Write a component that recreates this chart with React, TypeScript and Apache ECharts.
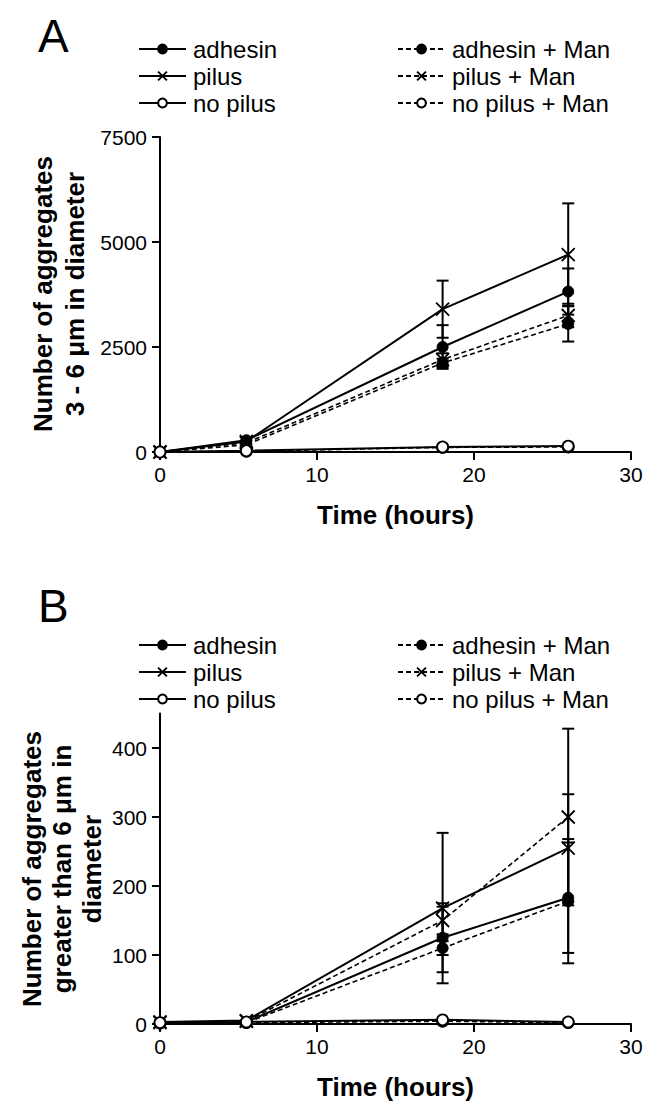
import React, { useEffect, useRef } from "react";
import * as echarts from "echarts";

// ---- data ----
const hours = [0, 5.5, 18, 26];
const xTicks = [0, 10, 20, 30];
const yTicksA = [0, 2500, 5000, 7500];
const yTicksB = [0, 100, 200, 300, 400];
const legendSolid = ["adhesin", "pilus", "no pilus"];
const legendDashed = ["adhesin + Man", "pilus + Man", "no pilus + Man"];

// Panel A: aggregates 3 - 6 µm
const adhesinA = [0, 280, 2500, 3820];
const pilusA = [0, 250, 3400, 4700];
const noPilusA = [0, 30, 120, 140];
const adhesinManA = [0, 170, 2120, 3050];
const pilusManA = [0, 220, 2200, 3250];
const noPilusManA = [0, 20, 110, 120];
const adhesinAErr = [0, 0, 520, 550];
const pilusAErr = [0, 0, 680, 1220];
const adhesinManAErr = [0, 0, 100, 420];
const pilusManAErr = [0, 0, 150, 280];

// Panel B: aggregates > 6 µm
const adhesinB = [2, 3, 125, 183];
const pilusB = [3, 5, 168, 255];
const noPilusB = [2, 3, 6, 3];
const adhesinManB = [1, 2, 110, 178];
const pilusManB = [2, 4, 150, 300];
const noPilusManB = [1, 2, 4, 2];
const adhesinBErr = [0, 0, 50, 80];
const pilusBErr = [0, 0, 109, 78];
const adhesinManBErr = [0, 0, 10, 90];
const pilusManBErr = [0, 0, 20, 128];

const FONT = "Liberation Sans, Arial, Helvetica, sans-serif";
const CROSS = "path://M0,0 L10,10 M10,0 L0,10";

type Marker = "filled" | "cross" | "open";

function lineSeries(name: string, vals: number[], marker: Marker, dashed: boolean, g: number) {
  const itemStyle =
    marker === "filled"
      ? { color: "#000", borderColor: "#000", borderWidth: 1 }
      : marker === "open"
      ? { color: "#fff", borderColor: "#000", borderWidth: 1.8 }
      : { color: "#000", borderColor: "#000", borderWidth: 1.8 };
  return {
    type: "line",
    name,
    xAxisIndex: g,
    yAxisIndex: g,
    data: hours.map((h, i) => [h, vals[i]]),
    symbol: marker === "cross" ? CROSS : "circle",
    symbolSize: marker === "cross" ? 13 : 11,
    showAllSymbol: true,
    itemStyle,
    lineStyle: { color: "#000", width: dashed ? 1.6 : 2, type: dashed ? [5, 3] : "solid" },
    emphasis: { disabled: true },
    z: dashed ? 3 : 4,
  };
}

function errSeries(vals: number[], errs: number[], g: number) {
  const data: number[][] = [];
  hours.forEach((h, i) => {
    if (errs[i] > 0) data.push([h, vals[i] - errs[i], vals[i] + errs[i]]);
  });
  return {
    type: "custom",
    xAxisIndex: g,
    yAxisIndex: g,
    data,
    z: 2,
    renderItem: (_p: any, api: any) => {
      const x = api.value(0);
      const lo = api.coord([x, Math.max(0, api.value(1))]);
      const hi = api.coord([x, api.value(2)]);
      const st = { stroke: "#000", lineWidth: 2 };
      const cw = 6;
      return {
        type: "group",
        children: [
          { type: "line", shape: { x1: lo[0], y1: lo[1], x2: hi[0], y2: hi[1] }, style: st },
          { type: "line", shape: { x1: hi[0] - cw, y1: hi[1], x2: hi[0] + cw, y2: hi[1] }, style: st },
          { type: "line", shape: { x1: lo[0] - cw, y1: lo[1], x2: lo[0] + cw, y2: lo[1] }, style: st },
        ],
      };
    },
  };
}

function xAxis(g: number) {
  return {
    type: "value",
    gridIndex: g,
    min: 0,
    max: 30,
    interval: 10,
    name: "Time (hours)",
    nameLocation: "middle",
    nameGap: 50,
    nameTextStyle: { fontFamily: FONT, fontSize: 26, fontWeight: "bold", color: "#000" },
    axisLine: { show: true, lineStyle: { color: "#000", width: 2 } },
    axisTick: { show: true, length: 8, lineStyle: { color: "#000", width: 2 }, customValues: xTicks },
    axisLabel: {
      fontFamily: FONT,
      fontSize: 21,
      color: "#000",
      margin: 12,
      customValues: xTicks,
      formatter: (v: number) => String(v),
    },
    splitLine: { show: false },
  };
}

function yAxis(g: number, max: number, interval: number, ticks: number[]) {
  return {
    type: "value",
    gridIndex: g,
    min: 0,
    max,
    interval,
    axisLine: { show: true, onZero: false, lineStyle: { color: "#000", width: 2 } },
    axisTick: { show: true, length: 8, lineStyle: { color: "#000", width: 2 }, customValues: ticks },
    axisLabel: {
      fontFamily: FONT,
      fontSize: 21,
      color: "#000",
      margin: 13,
      customValues: ticks,
      formatter: (v: number) => String(v),
    },
    splitLine: { show: false },
  };
}

function legend(names: string[], left: number, top: number) {
  return {
    data: names,
    orient: "vertical",
    left,
    top,
    itemWidth: 47,
    itemHeight: 11,
    itemGap: 3,
    selectedMode: false,
    textStyle: { fontFamily: FONT, fontSize: 24, color: "#000", padding: [0, 0, 0, 2] },
  };
}

export default function App() {
  const ref = useRef<HTMLDivElement>(null);
  useEffect(() => {
    if (!ref.current) return;
    const chart = echarts.init(ref.current, undefined, { renderer: "svg" });
    chart.setOption({
      animation: false,
      backgroundColor: "#fff",
      title: [
        { text: "A", left: 33, top: 8, textStyle: { fontFamily: FONT, fontSize: 46, fontWeight: "normal", color: "#000" } },
        { text: "B", left: 33, top: 578, textStyle: { fontFamily: FONT, fontSize: 46, fontWeight: "normal", color: "#000" } },
      ],
      legend: [
        legend(legendSolid, 133, 32),
        legend(legendDashed, 392, 32),
        legend(legendSolid, 133, 628),
        legend(legendDashed, 392, 628),
      ],
      grid: [
        { left: 160, right: 29, top: 137, height: 315 },
        { left: 160, right: 29, top: 713.5, height: 310.5 },
      ],
      xAxis: [xAxis(0), xAxis(1)],
      yAxis: [yAxis(0, 7500, 2500, yTicksA), yAxis(1, 450, 50, yTicksB)],
      graphic: [
        {
          type: "text",
          x: 59,
          y: 294,
          rotation: Math.PI / 2,
          style: {
            text: "Number of aggregates\n3 - 6 \u03bcm in diameter",
            fontFamily: FONT,
            fontSize: 26,
            fontWeight: "bold",
            lineHeight: 32,
            fill: "#000",
            align: "center",
            verticalAlign: "middle",
          },
        },
        {
          type: "text",
          x: 62,
          y: 869,
          rotation: Math.PI / 2,
          style: {
            text: "Number of aggregates\ngreater than 6 \u03bcm in\ndiameter",
            fontFamily: FONT,
            fontSize: 26,
            fontWeight: "bold",
            lineHeight: 30,
            fill: "#000",
            align: "center",
            verticalAlign: "middle",
          },
        },
      ],
      series: [
        errSeries(adhesinA, adhesinAErr, 0),
        errSeries(pilusA, pilusAErr, 0),
        errSeries(adhesinManA, adhesinManAErr, 0),
        errSeries(pilusManA, pilusManAErr, 0),
        lineSeries("adhesin", adhesinA, "filled", false, 0),
        lineSeries("pilus", pilusA, "cross", false, 0),
        lineSeries("no pilus", noPilusA, "open", false, 0),
        lineSeries("adhesin + Man", adhesinManA, "filled", true, 0),
        lineSeries("pilus + Man", pilusManA, "cross", true, 0),
        lineSeries("no pilus + Man", noPilusManA, "open", true, 0),
        errSeries(adhesinB, adhesinBErr, 1),
        errSeries(pilusB, pilusBErr, 1),
        errSeries(adhesinManB, adhesinManBErr, 1),
        errSeries(pilusManB, pilusManBErr, 1),
        lineSeries("adhesin", adhesinB, "filled", false, 1),
        lineSeries("pilus", pilusB, "cross", false, 1),
        lineSeries("no pilus", noPilusB, "open", false, 1),
        lineSeries("adhesin + Man", adhesinManB, "filled", true, 1),
        lineSeries("pilus + Man", pilusManB, "cross", true, 1),
        lineSeries("no pilus + Man", noPilusManB, "open", true, 1),
      ],
    });
    return () => chart.dispose();
  }, []);
  return (
    <div
      ref={ref}
      style={{ position: "absolute", left: 0, top: 0, width: 660, height: 1108, background: "#fff" }}
    />
  );
}
